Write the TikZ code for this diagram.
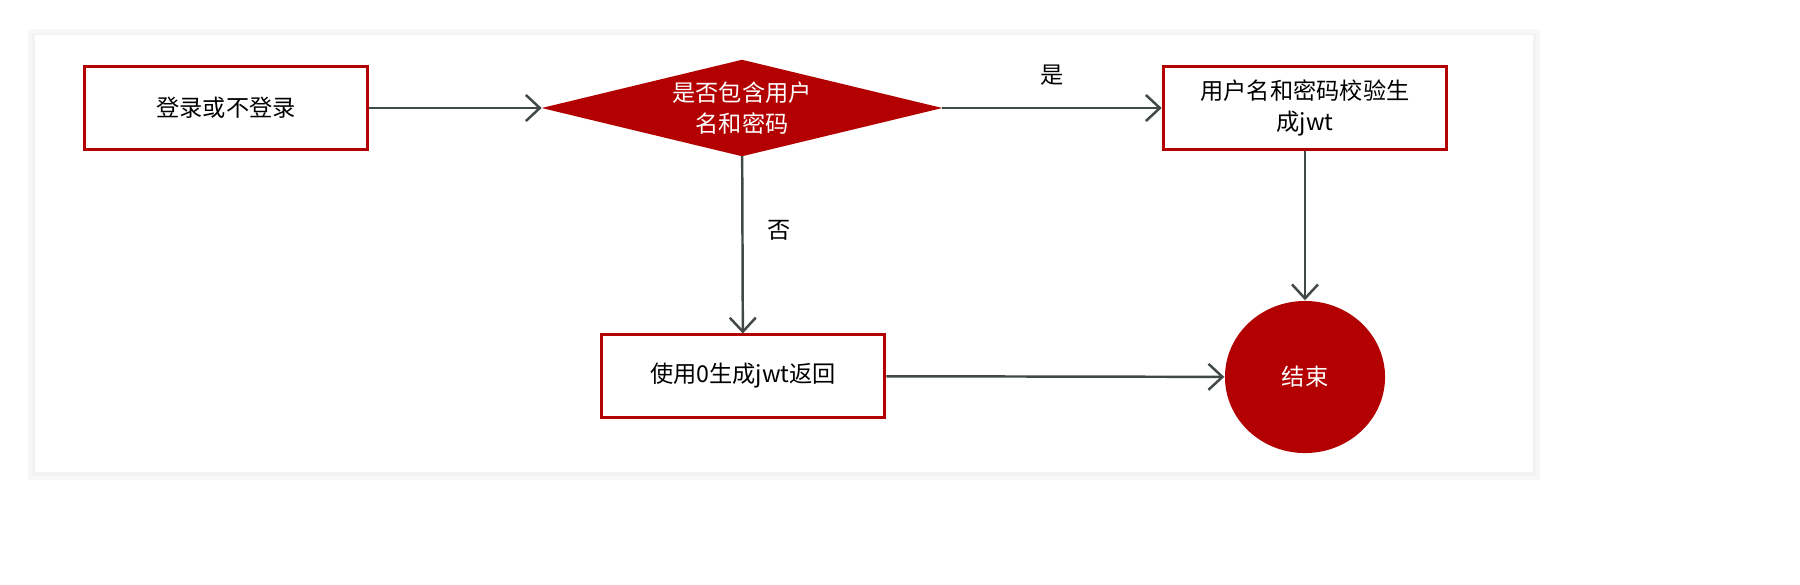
\documentclass[tikz,border=0pt]{standalone}
\usepackage{fontspec}
\setmainfont{Noto Sans CJK SC}
\usetikzlibrary{shapes.geometric,arrows.meta}
\definecolor{darkred}{HTML}{B30000}
\definecolor{arrowgray}{HTML}{404848}
\tikzset{
	stepbox/.style={shape=rectangle,draw=darkred,line width=0.85pt,fill=white,minimum width=2.77cm,minimum height=0.82cm,align=center,text width=2.6cm},
	link/.style={draw=arrowgray,line width=0.7pt,-{Straight Barb[length=1.4mm,width=2.6mm]}}
}
\begin{document}
\begin{tikzpicture}[x=0.01cm,y=-0.01cm,font=\fontsize{6.6}{9}\selectfont]
	\useasboundingbox[fill=white] (0,0) rectangle (1800,584);
	\fill[black!3] (28,29) rectangle (1540,480);
	\fill[black!5] (32,33) rectangle (1536,476);
	\fill[white] (35,35) rectangle (1533,472);

	\node[stepbox] (login) at (226,108) {登录或不登录};
	\node[shape=rectangle,inner sep=0pt,minimum width=3.99cm,minimum height=0.95cm] (check) at (742,108) {};
	\fill[darkred] (check.west) -- (check.north) -- (check.east) -- (check.south) -- cycle;
	\node[text=white,align=center] at (check) {是否包含用户\\名和密码};
	\node[stepbox] (verify) at (1305,108) {用户名和密码校验生\\成jwt};
	\node[stepbox] (anon) at (743,376) {使用0生成jwt返回};
	\node[shape=ellipse,fill=darkred,text=white,minimum width=1.6cm,minimum height=1.52cm] (finish) at (1305,377) {结束};

	\path [link](login) edge (check);
	\path [link](check) edge node[above=0.1cm] {是} (verify);
	\path [link](check) edge node[right=0.12cm,pos=0.42] {否} (anon);
	\path [link](verify) edge (finish);
	\path [link](anon) edge (finish);
\end{tikzpicture}
\end{document}
